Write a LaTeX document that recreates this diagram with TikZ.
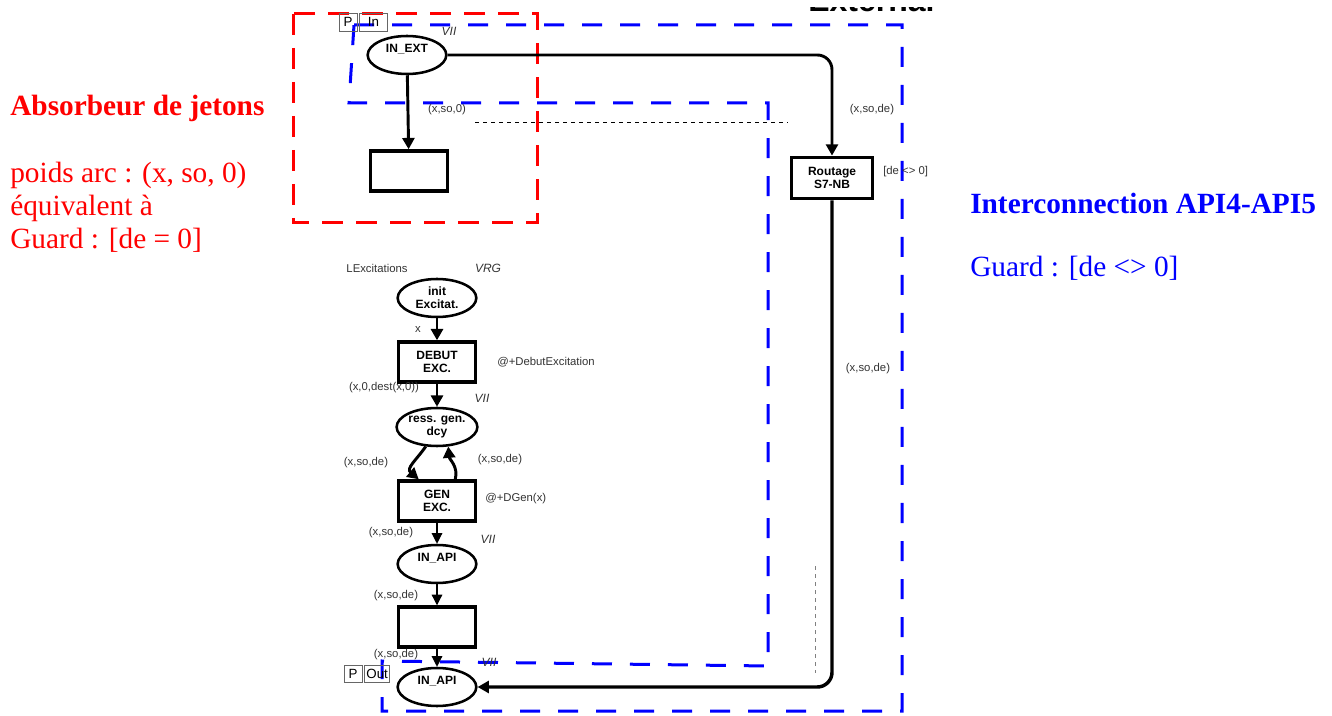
\documentclass[tikz,border=0pt]{standalone}
\usepackage{fontspec}
\setmainfont{Liberation Serif}
\newfontfamily\netfont{Liberation Sans}
\usetikzlibrary{arrows.meta,shapes.geometric}

\begin{document}
\begin{tikzpicture}[x=0.75pt,y=-0.75pt,
    place/.style={draw,ellipse,line width=1.9pt,minimum width=59pt,minimum height=28.5pt,
        inner sep=0pt,align=center,font=\netfont\bfseries\fontsize{9}{9.5}\selectfont},
    high/.style={text height=6.5pt,text depth=10pt},
    trans/.style={draw,rectangle,line width=2.6pt,minimum width=58pt,minimum height=30pt,
        inner sep=1pt,align=center,font=\netfont\bfseries\fontsize{9}{10}\selectfont},
    inscr/.style={inner sep=0pt,text=black!80,font=\netfont\fontsize{8.5}{9}\selectfont},
    colset/.style={inner sep=0pt,text=black!80,font=\netfont\itshape\fontsize{9}{9}\selectfont},
    tag/.style={draw=black!60,line width=0.6pt,inner sep=1.5pt,minimum height=13.5pt,
        minimum width=13.5pt,font=\netfont\fontsize{10}{10}\selectfont},
    arc/.style={line width=2.2pt,-{Triangle[width=9pt,length=8.5pt]}},
    thinarc/.style={line width=0.9pt,-{Triangle[width=8pt,length=8pt]}},
    redzone/.style={red,line width=2.25pt,dash pattern=on 15.75pt off 9.75pt},
    bluezone/.style={blue,line width=2.25pt,dash pattern=on 15pt off 13.5pt},
    note/.style={anchor=west,inner sep=0pt,align=left,font=\fontsize{22}{24.75}\selectfont}]

\useasboundingbox (0,0) rectangle (1332,716);

% fusion title, only its foot shows under the frame
\node[anchor=base west,inner sep=0pt,font=\netfont\bfseries\fontsize{24}{24}\selectfont] (ext) at (808,12) {External};
\fill[white] (790,-30) rectangle (960,7);

% zones
\draw[redzone] (293,14) rectangle (537,223);
\draw[bluezone] (354,25) -- (902,25) -- (902,711) -- (382,711) -- (382,661)
    -- (768,666) -- (768,103) -- (349,103) -- cycle;
\draw[black,line width=0.5pt,dash pattern=on 3pt off 3pt] (475,122) -- (788,122);
\draw[black!50,line width=0.5pt,dash pattern=on 3pt off 3pt] (815,566) -- (815,673);

% upper part
\node[place,high] (inext) at (407,55) {IN\_EXT};
\node[trans] (absorb) at (409,171) {};
\node[trans,minimum width=61pt,minimum height=31pt] (routage) at (832,178) {Routage\\S7-NB};
\node[tag] (pin) at (348,22) {P};
\node[tag,anchor=west,minimum width=21pt] (inport) at (359,22) {In};
\node[colset] (vii1) at (449,31) {VII};

\draw[arc] (inext) -- (absorb);
\draw[arc,rounded corners=11pt] (inext.east) -| (routage.north);

\node[inscr] (w1) at (447,110) {(x,so,0)};
\node[inscr] (w2) at (872,110) {(x,so,de)};
\node[inscr,anchor=west] (g1) at (883,172) {[de <> 0]};
\node[inscr] (w3) at (868,369) {(x,so,de)};

% excitation chain
\node[place] (init) at (437,298) {init\\Excitat.};
\node[trans] (debut) at (437,362) {DEBUT\\EXC.};
\node[place] (ress) at (437,427) {ress. gen.\\dcy};
\node[trans] (gen) at (437,501) {GEN\\EXC.};
\node[place,high] (inapi1) at (437,564) {IN\_API};
\node[trans] (tout) at (437,627) {};
\node[place,high] (inapi2) at (437,687) {IN\_API};
\node[tag,minimum height=12.5pt] (pout) at (353,674) {P};
\node[tag,anchor=west,minimum height=12.5pt] (outport) at (364,674) {Out};

\draw[arc] (init) -- (debut);
\draw[arc] (debut) -- (ress);
\draw[arc] (ress.240) to[out=-125,in=140,looseness=1.3] (gen.130);
\draw[arc] (gen.50) to[out=75,in=-85] (ress.300);
\draw[thinarc] (gen) -- (inapi1);
\draw[thinarc] (inapi1) -- (tout);
\draw[thinarc] (tout) -- (inapi2);
\draw[arc,line width=2.6pt,rounded corners=11pt] (routage.south) |- (inapi2.east);

\node[inscr] (lexc) at (377,268) {LExcitations};
\node[colset] (vrg) at (488,268) {VRG};
\node[inscr] (w4) at (418,330) {x};
\node[inscr,anchor=west] (c1) at (497,362) {@+DebutExcitation};
\node[inscr] (w5) at (384,388) {(x,0,dest(x,0))};
\node[colset] (vii2) at (482,398) {VII};
\node[inscr] (w6) at (366,463) {(x,so,de)};
\node[inscr] (w7) at (500,460) {(x,so,de)};
\node[inscr,anchor=west] (c2) at (485,499) {@+DGen(x)};
\node[inscr] (w8) at (391,533) {(x,so,de)};
\node[colset] (vii3) at (488,539) {VII};
\node[inscr] (w9) at (396,596) {(x,so,de)};
\node[inscr] (w10) at (396,655) {(x,so,de)};
\node[colset] (vii4) at (489,662) {VII};

% notes
\node[note,red,font=\bfseries\fontsize{22}{24.75}\selectfont] (abs) at (10,108) {Absorbeur de jetons};
\node[note,red] (absg) at (10,207) {poids arc : (x, so, 0)\\équivalent à\\Guard : [de = 0]};
\node[note,blue,font=\bfseries\fontsize{22}{24.75}\selectfont] (inter) at (970,203) {Interconnection API4-API5};
\node[note,blue] (interg) at (970,268) {Guard : [de <> 0]};
\end{tikzpicture}
\end{document}
